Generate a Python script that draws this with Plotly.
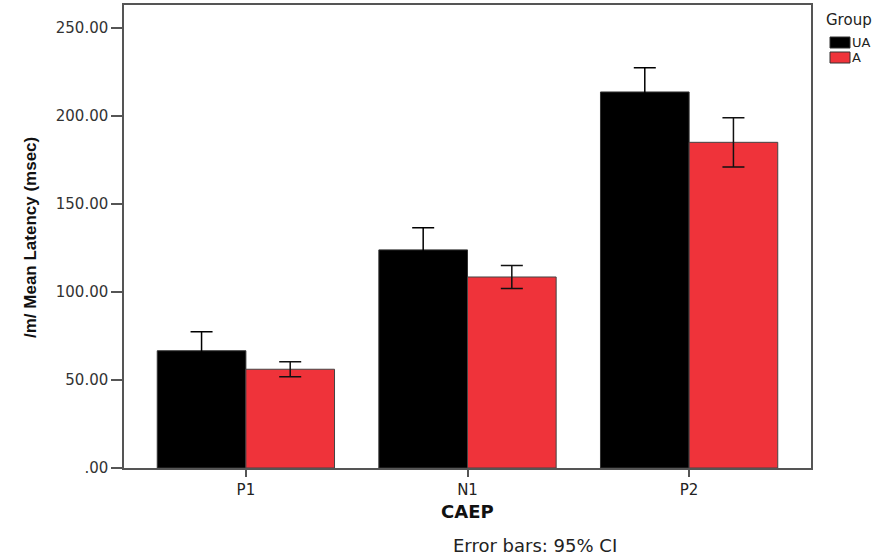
import plotly.graph_objects as go

categories = ["P1", "N1", "P2"]
ua_means = [66.6, 123.9, 213.6]
ua_ci = [10.8, 12.5, 13.8]
a_means = [56.1, 108.5, 185.0]
a_ci = [4.2, 6.5, 14.0]
y_ticks = [0, 50, 100, 150, 200, 250]
y_ticklabels = [".00", "50.00", "100.00", "150.00", "200.00", "250.00"]
series_names = ["UA", "A"]
series_colors = ["#000000", "#ef333a"]

W, H = 888, 560
L, R, T, B = 124, 77, 5, 92
PW, PH = W - L - R, H - T - B


def px_x(px):
    return (px - L) / PW


def px_y(py):
    return (H - B - py) / PH


wide = "DejaVu Sans, Verdana, sans-serif"
arial = "Liberation Sans, Arial, sans-serif"
text_color = "#222222"

fig = go.Figure()
fig.add_trace(go.Bar(
    x=categories, y=ua_means, name=series_names[0], showlegend=False,
    marker=dict(color=series_colors[0], line=dict(color="#333333", width=1)),
    error_y=dict(type="data", array=ua_ci, visible=True, color="#000000", thickness=1.5, width=11),
))
fig.add_trace(go.Bar(
    x=categories, y=a_means, name=series_names[1], showlegend=False,
    marker=dict(color=series_colors[1], line=dict(color="#444444", width=1)),
    error_y=dict(type="data", array=a_ci, visible=True, color="#111111", thickness=1.5, width=11),
))

shapes = []
annotations = []
# custom legend
annotations.append(dict(text="Group", xref="paper", yref="paper", x=px_x(825), y=px_y(20),
                        xanchor="left", yanchor="middle", showarrow=False, borderpad=0,
                        font=dict(family=wide, size=15, color=text_color)))
for i, (nm, col) in enumerate(zip(series_names, series_colors)):
    top = 37 + i * 15
    shapes.append(dict(type="rect", xref="paper", yref="paper",
                       x0=px_x(830), x1=px_x(850), y0=px_y(top + 11), y1=px_y(top),
                       fillcolor=col, line=dict(color="#333333", width=1)))
    annotations.append(dict(text=nm, xref="paper", yref="paper", x=px_x(851), y=px_y(top + 5.5),
                            xanchor="left", yanchor="middle", showarrow=False, borderpad=0,
                            font=dict(family=wide, size=13, color=text_color)))

annotations.append(dict(text="<b>CAEP</b>", xref="paper", yref="paper", x=px_x(467), y=px_y(511),
                        xanchor="center", yanchor="middle", showarrow=False,
                        font=dict(family=wide, size=18, color="#111111")))
annotations.append(dict(text="Error bars: 95% CI", xref="paper", yref="paper", x=px_x(535), y=px_y(545),
                        xanchor="center", yanchor="middle", showarrow=False,
                        font=dict(family=wide, size=18, color=text_color)))
annotations.append(dict(text="<b>/m/ Mean Latency (msec)</b>", xref="paper", yref="paper",
                        x=px_x(31), y=px_y(238), textangle=-90,
                        xanchor="center", yanchor="middle", showarrow=False,
                        font=dict(family=arial, size=17, color="#111111")))

fig.update_layout(
    width=W, height=H,
    margin=dict(l=L, r=R, t=T, b=B, autoexpand=False),
    paper_bgcolor="white", plot_bgcolor="white",
    barmode="group", bargap=0.2, bargroupgap=0,
    font=dict(family=wide, color=text_color, size=13),
    showlegend=False,
    shapes=shapes,
    annotations=annotations,
    xaxis=dict(
        range=[-0.55, 2.55],
        showline=True, linecolor="#555555", linewidth=1.5, mirror=True,
        ticks="outside", ticklen=7, tickcolor="#555555", tickwidth=1.5,
        tickfont=dict(family=wide, size=15, color=text_color),
        showgrid=False, zeroline=False,
    ),
    yaxis=dict(
        range=[0, 263],
        tickvals=y_ticks, ticktext=y_ticklabels,
        showline=True, linecolor="#555555", linewidth=1.5, mirror=True,
        ticks="outside", ticklen=11, tickcolor="#555555", tickwidth=1.5,
        tickfont=dict(family=wide, size=15, color="#333333"),
        showgrid=False, zeroline=False,
    ),
)

fig.write_html("out.html", config={"displayModeBar": False},
               post_script="document.body.style.margin='0';document.body.style.overflow='hidden';")
